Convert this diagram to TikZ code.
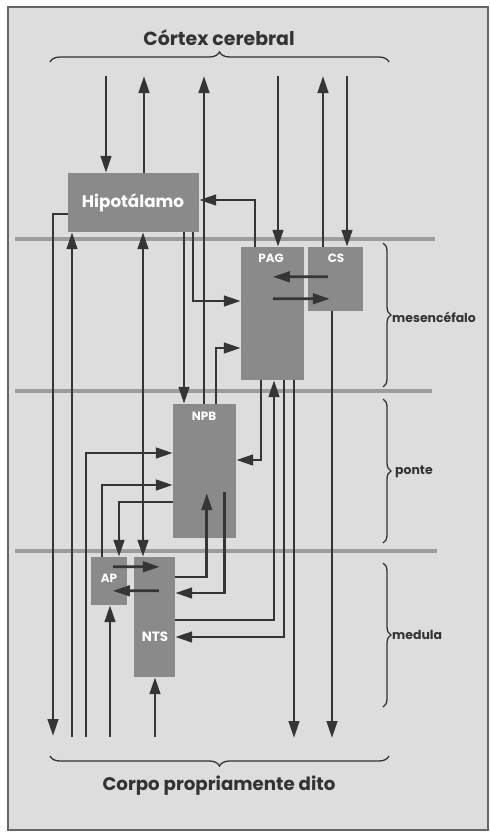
\documentclass[tikz,border=0pt]{standalone}
\usepackage{fontspec}
\setmainfont{Poppins}
\usetikzlibrary{arrows.meta,decorations.pathreplacing,calc}
\definecolor{bgc}{HTML}{DDDDDD}
\definecolor{boxc}{HTML}{8A8A8A}
\definecolor{lnc}{HTML}{353535}
\definecolor{bandc}{HTML}{9C9C9C}
\definecolor{txtc}{HTML}{333333}
\begin{document}
\begin{tikzpicture}[x=1bp,y=-1bp,
  regbox/.style={fill=boxc,draw=none,inner sep=0pt},
  arr/.style={draw=lnc,line width=2.8bp,-{Triangle[length=17bp,width=10.5bp]}},
  darr/.style={draw=lnc,line width=2.8bp,{Triangle[length=17bp,width=10.5bp]}-{Triangle[length=17bp,width=10.5bp]}},
  bandline/.style={draw=bandc,line width=4bp},
  bracestyle/.style={draw=txtc,line width=1.3bp,decorate,decoration={brace,amplitude=#1}},
  boxlabel/.style={text=white,font=\bfseries\fontsize{12}{13}\selectfont,inner sep=0pt},
  titlelabel/.style={text=txtc,font=\bfseries\fontsize{19}{21}\selectfont,inner sep=0pt},
  sidelabel/.style={text=txtc,font=\bfseries\fontsize{12.5}{14}\selectfont,inner sep=0pt,anchor=west}
]
\useasboundingbox (0,0) rectangle (490,833);
\fill[white] (0,0) rectangle (490,833);
\draw[fill=bgc,draw=black!60,line width=1.2bp] (8,7) rectangle (488,830);

% region boundaries
\draw[bandline] (15,239) -- (435,239);
\draw[bandline] (15,391) -- (432,391);
\draw[bandline] (15,551) -- (437,551);

% boxes
\node[regbox,minimum width=131bp,minimum height=59bp] (hip) at (133.5,202.5) {};
\node[regbox,minimum width=63bp,minimum height=133bp] (PAG) at (272.5,313.5) {};
\node[regbox,minimum width=55bp,minimum height=64bp] (CS) at (335.5,279) {};
\node[regbox,minimum width=63bp,minimum height=134bp] (NPB) at (204.5,471) {};
\node[regbox,minimum width=36bp,minimum height=48bp] (AP) at (109,581) {};
\node[regbox,minimum width=41bp,minimum height=120bp] (NTS) at (154.5,617) {};

\node[boxlabel,font=\bfseries\fontsize{16.8}{18}\selectfont] (hipt) at (133,203) {Hipotálamo};
\node[boxlabel] (PAGt) at (271,258) {PAG};
\node[boxlabel] (CSt) at (336,258) {CS};
\node[boxlabel] (NPBt) at (204,416) {NPB};
\node[boxlabel] (APt) at (109,578) {AP};
\node[boxlabel,font=\bfseries\fontsize{13.5}{14}\selectfont] (NTSt) at (155,637) {NTS};

% texts
\node[titlelabel] (cortex) at (219,38) {Córtex cerebral};
\node[titlelabel,font=\bfseries\fontsize{18.3}{20}\selectfont] (corpo) at (219,786) {Corpo propriamente dito};
\node[sidelabel] (mes) at (392,317) {mesencéfalo};
\node[sidelabel] (pon) at (395,472) {ponte};
\node[sidelabel] (med) at (392,635) {medula};

% braces
\draw[bracestyle=10bp] (50,62) -- (389,62);
\draw[bracestyle=10bp] (389,756) -- (50,756);
\draw[bracestyle=8bp] (383,243) -- (383,387);
\draw[bracestyle=8bp] (383,399) -- (383,543);
\draw[bracestyle=8bp] (383,563) -- (383,707);

% guide coordinates
\foreach \x in {102,119,143,184,193,216,255,261,274,284}{\coordinate (c\x) at (\x,0);}
\foreach \y in {200,214,301,348,453,460,485,502,577,593,620,637}{\coordinate (r\y) at (0,\y);}
\coordinate (t106) at (106,76);
\coordinate (t144) at (144,76);
\coordinate (t204) at (204,76);
\coordinate (t278) at (278,76);
\coordinate (t323) at (323,76);
\coordinate (t347) at (347,76);
\coordinate (b53) at (53,736);
\coordinate (b72) at (72,737);
\coordinate (b86) at (86,737);
\coordinate (b110) at (110,737);
\coordinate (b155) at (155,737);
\coordinate (b294) at (294,738);
\coordinate (b332) at (332,738);

% connectors to and from the cortex
\draw[arr] (t106) -- (t106 |- hip.north);
\draw[arr] (t144 |- hip.north) -- (t144);
\draw[arr] (t204 |- NPB.north) -- (t204);
\draw[arr] (t278) -- (t278 |- PAG.north);
\draw[arr] (t323 |- CS.north) -- (t323);
\draw[arr] (t347) -- (t347 |- CS.north);

% hypothalamus
\draw[arr] (c255 |- PAG.north) |- (r200 -| hip.east);
\draw[arr] (r214 -| hip.west) -| (b53);
\draw[arr] (b72) -- (b72 |- hip.south);
\draw[darr] (c143 |- hip.south) -- (c143 |- NTS.north);
\draw[arr] (c184 |- hip.south) -- (c184 |- NPB.north);
\draw[arr] (c193 |- hip.south) |- (r301 -| PAG.west);
\draw[arr] (c216 |- NPB.north) |- (r348 -| PAG.west);

% PAG and CS
\draw[arr] ($(CS.north west)+(20,30)$) -- ($(PAG.north west)+(32,30)$);
\draw[arr] ($(PAG.north west)+(32,52)$) -- ($(CS.north west)+(22,52)$);
\draw[arr] (b332 |- CS.south) -- (b332);
\draw[arr] (b294 |- PAG.south) -- (b294);
\draw[arr] (c261 |- PAG.south) |- (r460 -| NPB.east);
\draw[arr] (r620 -| NTS.east) -| (c274 |- PAG.south);
\draw[arr] (c284 |- PAG.south) |- (r637 -| NTS.east);

% NPB
\draw[arr] (r577 -| NTS.east) -| ($(NPB.south west)+(34,-45)$);
\draw[arr] ($(NPB.south west)+(52,-46)$) |- (r593 -| NTS.east);
\draw[arr] (b86) |- (r453 -| NPB.west);
\draw[arr] (c102 |- AP.north) |- (r485 -| NPB.west);
\draw[arr] (r502 -| NPB.west) -| (c119 |- AP.north);

% AP and NTS
\draw[arr] (b110) -- (b110 |- AP.south);
\draw[arr] (b155) -- (b155 |- NTS.south);
\draw[arr] ($(AP.north west)+(22,10)$) -- ($(NTS.north west)+(26,10)$);
\draw[arr] ($(NTS.north west)+(25,34)$) -- ($(AP.north west)+(22,34)$);
\end{tikzpicture}
\end{document}
